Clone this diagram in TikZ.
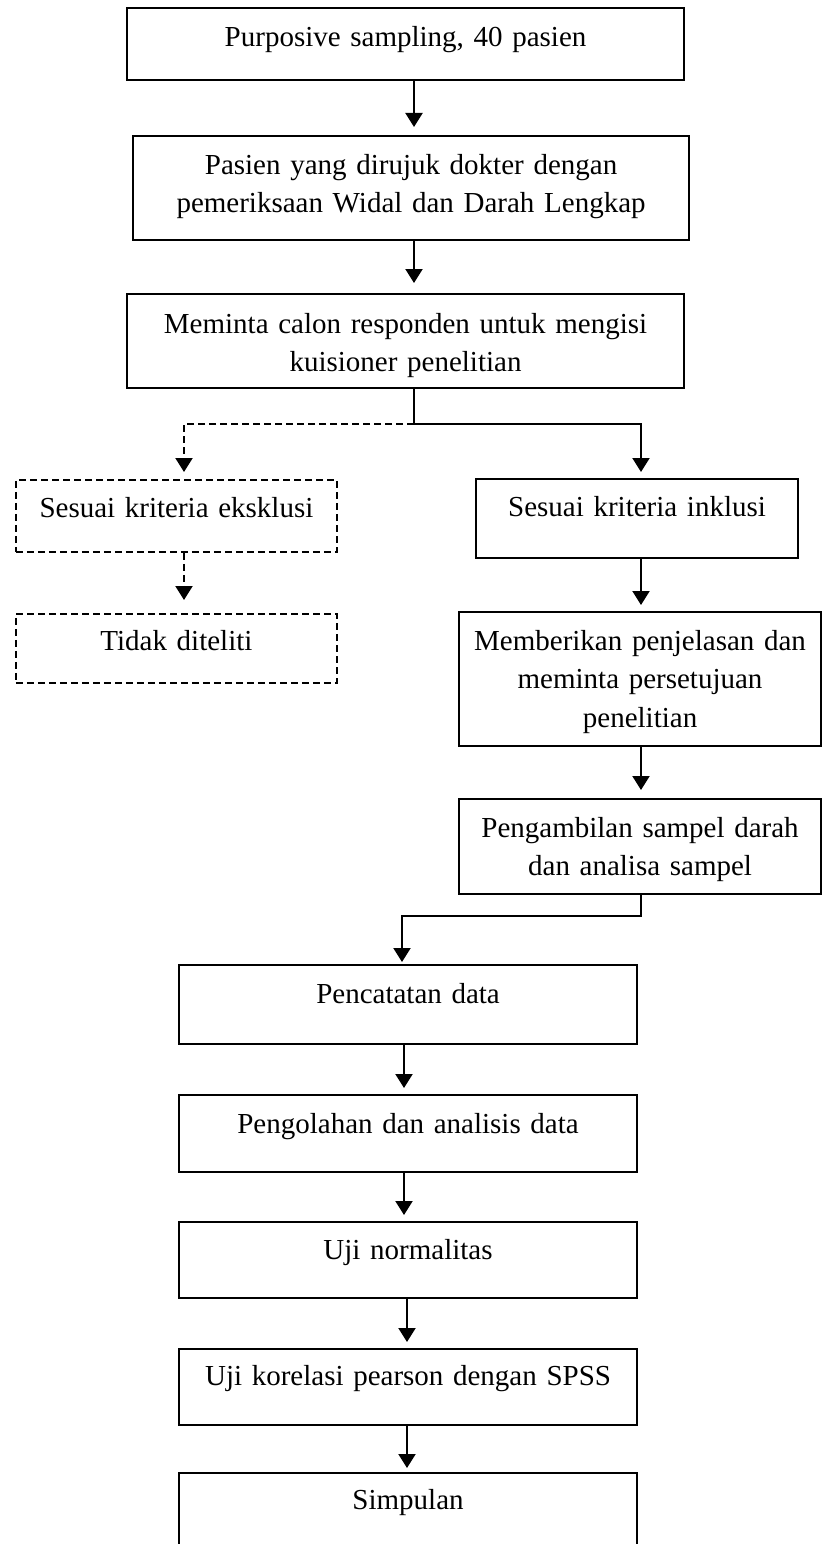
\documentclass[tikz,border=0pt]{standalone}
\usepackage{fontspec}
\setmainfont{Liberation Serif}
\usetikzlibrary{arrows.meta,calc}
\begin{document}
\begin{tikzpicture}[x=1pt,y=-1pt,
  font=\fontsize{29pt}{38.5pt}\selectfont,
  box/.style={draw, line width=2.1pt, inner sep=0pt, text width=#1, align=center, text height=38pt, anchor=north west},
  dbox/.style={box=#1, line width=1.9pt, dash pattern=on 7pt off 4pt},
  arr/.style={line width=2pt, -{Triangle[width=17pt,length=14pt]}, shorten >=6pt},
  darr/.style={arr, dash pattern=on 7pt off 4pt},
  plain/.style={line width=2pt}]
\useasboundingbox (0,0) rectangle (822,1544);
\clip (0,0) rectangle (822,1544);

\node[box=557pt, text depth=34pt] (b1) at (126,7) {Purposive sampling, 40 pasien};
\node[box=556pt, text depth=66pt] (b2) at (132,135) {Pasien yang dirujuk dokter dengan\\pemeriksaan Widal dan Darah Lengkap};
\node[box=557pt, text depth=55pt, text height=39pt] (b3) at (126,293) {Meminta calon responden untuk mengisi\\kuisioner penelitian};
\node[dbox=321pt, text depth=34pt] (exc) at (15,479) {Sesuai kriteria eksklusi};
\node[dbox=321pt, text depth=32pt, text height=37pt] (tid) at (15,613) {Tidak diteliti};
\node[box=322pt, text depth=42pt, text height=37pt] (inc) at (475,478) {Sesuai kriteria inklusi};
\node[box=362pt, text depth=96pt] (mem) at (458,611) {Memberikan penjelasan dan\\meminta persetujuan\\penelitian};
\node[box=362pt, text depth=57pt] (pen) at (458,798) {Pengambilan sampel darah\\dan analisa sampel};
\node[box=458pt, text depth=41pt] (cat) at (178,964) {Pencatatan data};
\node[box=458pt, text depth=39pt] (ola) at (178,1094) {Pengolahan dan analisis data};
\node[box=458pt, text depth=39pt, text height=37pt] (nor) at (178,1221) {Uji normalitas};
\node[box=458pt, text depth=40pt, text height=36pt] (kor) at (178,1348) {Uji korelasi pearson dengan SPSS};
\node[box=458pt, text depth=100pt, text height=36pt] (sim) at (178,1472) {Simpulan};

\coordinate (xa) at (414,0);
\coordinate (xr) at (641,0);
\coordinate (xl) at (184,0);
\coordinate (xc) at (404,0);
\coordinate (xd) at (407,0);
\coordinate (xe) at (402,0);
\coordinate (j1) at (414,424);
\coordinate (j2) at (641,916);

\draw[arr, shorten >=8pt] (b1.south -| xa) -- (b2.north -| xa);
\draw[arr, shorten >=10pt] (b2.south -| xa) -- (b3.north -| xa);
\draw[plain] (b3.south -| xa) -- (j1);
\draw[arr] (j1) -| (inc.north -| xr);
\draw[darr, shorten >=7pt] (j1) -| (exc.north -| xl);
\draw[darr, shorten >=13pt] (exc.south -| xl) -- (tid.north -| xl);
\draw[arr] (inc.south -| xr) -- (mem.north -| xr);
\draw[arr, shorten >=8pt] (mem.south -| xr) -- (pen.north -| xr);
\draw[arr, shorten >=2pt] (pen.south -| xr) -- (j2) -| (cat.north -| xe);
\draw[arr] (cat.south -| xc) -- (ola.north -| xc);
\draw[arr] (ola.south -| xc) -- (nor.north -| xc);
\draw[arr] (nor.south -| xd) -- (kor.north -| xd);
\draw[arr, shorten >=4pt] (kor.south -| xd) -- (sim.north -| xd);
\end{tikzpicture}
\end{document}
